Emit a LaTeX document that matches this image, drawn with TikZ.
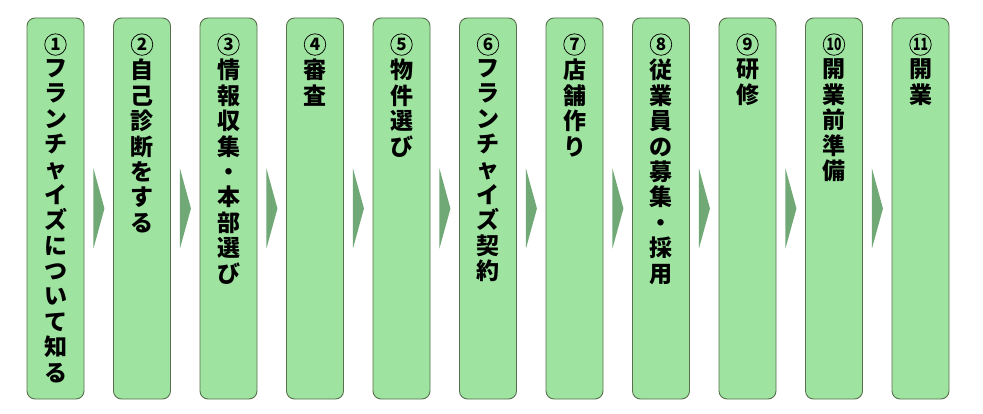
\documentclass[tikz,border=0pt]{standalone}
\usepackage{fontspec}
\usepackage{graphicx}
\newfontfamily\cjk{Noto Sans CJK JP}
\usetikzlibrary{calc}
\definecolor{boxfill}{RGB}{158,228,160}
\definecolor{boxline}{RGB}{88,112,78}
\definecolor{arrowfill}{RGB}{112,168,118}
\tikzset{
  stepbox/.style={draw=boxline, line width=0.9pt, fill=boxfill, rounded corners=8pt,
    minimum width=57pt, minimum height=381pt, inner sep=0pt},
  stepnum/.style={circle, draw=black, line width=0.75pt, minimum size=21.5pt, inner sep=0pt,
    font=\cjk\bfseries\fontsize{17}{17}\selectfont},
  steptext/.style={anchor=north, inner sep=0pt, align=center,
    font=\cjk\bfseries\fontsize{23}{25.4}\selectfont},
  chevron/.style={fill=arrowfill, draw=none}
}
\begin{document}
\begin{tikzpicture}[x=1pt,y=-1pt]
\useasboundingbox[fill=white] (0,0) rectangle (983,414);
\foreach \k/\num/\txt in {
 1/1/{フ\\ラ\\ン\\チ\\ャ\\イ\\ズ\\に\\つ\\い\\て\\知\\る},
 2/2/{自\\己\\診\\断\\を\\す\\る},
 3/3/{情\\報\\収\\集\\・\\本\\部\\選\\び},
 4/4/{審\\査},
 5/5/{物\\件\\選\\び},
 6/6/{フ\\ラ\\ン\\チ\\ャ\\イ\\ズ\\契\\約},
 7/7/{店\\舗\\作\\り},
 8/8/{従\\業\\員\\の\\募\\集\\・\\採\\用},
 9/9/{研\\修},
 10/\scalebox{0.72}[1]{10}/{開\\業\\前\\準\\備},
 11/\scalebox{0.72}[1]{11}/{開\\業}}{
  \node[stepbox] (b\k) at ({27+86.5*(\k-1)+28.5},208.5) {};
  \node[stepnum] (c\k) at ($(b\k.north)+(0,27)$) {\num};
  \node[steptext] (t\k) at ($(b\k.north)+(0,41.4)$) {\txt};
}
\foreach \k in {1,...,10}{
  \fill[chevron] ($(b\k.east)+(9,-40)$) -- ($(b\k.east)+(20,0)$) -- ($(b\k.east)+(9,40)$) -- cycle;
}
\end{tikzpicture}
\end{document}
